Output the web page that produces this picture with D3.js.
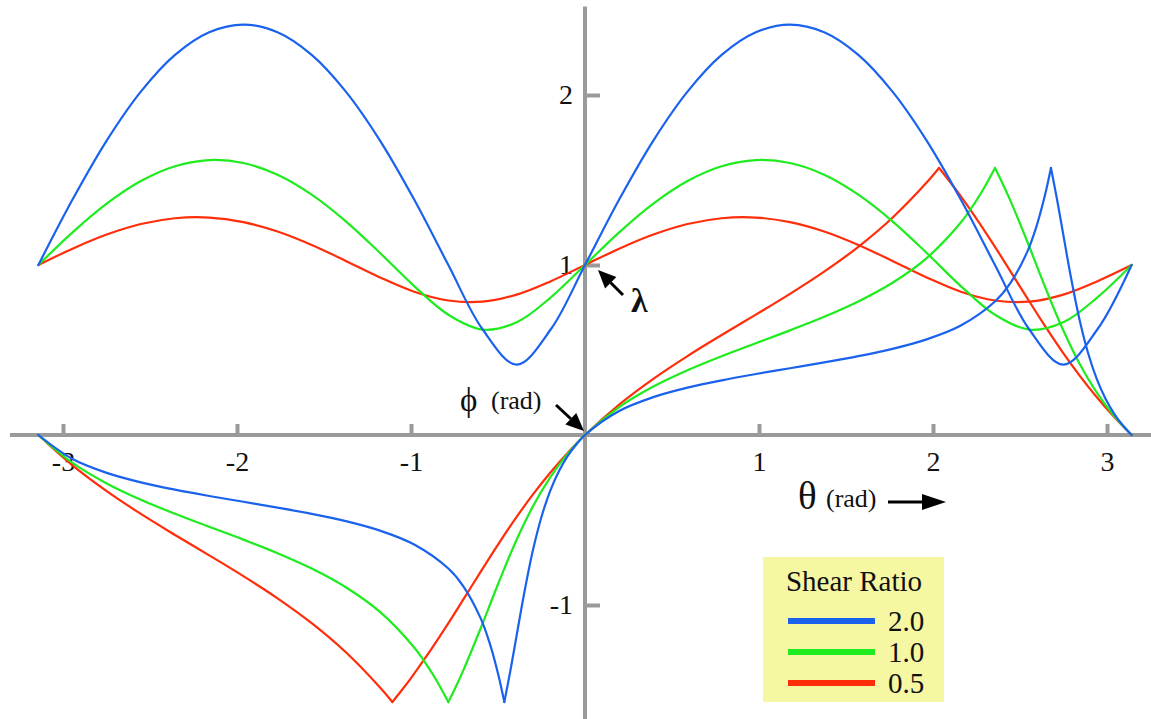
<!DOCTYPE html>
<html>
<head>
<meta charset="utf-8">
<script src="https://cdn.jsdelivr.net/npm/d3@7"></script>
<style>
  html, body { margin: 0; padding: 0; background: #fff; }
  svg { display: block; }
  svg text { font-family: "Liberation Serif", "Times New Roman", Times, "DejaVu Serif", "Noto Serif", serif; fill: #111; }
</style>
</head>
<body>
<svg id="chart" width="1151" height="719"></svg>
<script>
// Sample angles θ (rad) for the stretch curves
const theta = [-3.14159, -2.94524, -2.74889, -2.55254, -2.35619, -2.15984, -1.96350, -1.76715,
  -1.57080, -1.37445, -1.17810, -0.98175, -0.78540, -0.58905, -0.39270, -0.19635, 0,
  0.19635, 0.39270, 0.58905, 0.78540, 0.98175, 1.17810, 1.37445, 1.57080, 1.76715,
  1.96350, 2.15984, 2.35619, 2.55254, 2.74889, 2.94524, 3.14159];

// Stretch λ for each shear ratio
const lambda20 = [1, 1.385, 1.732, 2.020, 2.236, 2.369, 2.414, 2.369, 2.236, 2.020, 1.732, 1.385, 1,
  0.622, 0.414, 0.622, 1, 1.385, 1.732, 2.020, 2.236, 2.369, 2.414, 2.369, 2.236, 2.020, 1.732,
  1.385, 1, 0.622, 0.414, 0.622, 1];
const lambda10 = [1, 1.192, 1.361, 1.494, 1.581, 1.617, 1.600, 1.531, 1.414, 1.257, 1.071, 0.876, 0.707,
  0.620, 0.663, 0.810, 1, 1.192, 1.361, 1.494, 1.581, 1.617, 1.600, 1.531, 1.414, 1.257, 1.071,
  0.876, 0.707, 0.620, 0.663, 0.810, 1];
const lambda05 = [1, 1.096, 1.179, 1.241, 1.275, 1.279, 1.252, 1.197, 1.118, 1.024, 0.927, 0.843, 0.791,
  0.784, 0.826, 0.905, 1, 1.096, 1.179, 1.241, 1.275, 1.279, 1.252, 1.197, 1.118, 1.024, 0.927,
  0.843, 0.791, 0.784, 0.826, 0.905, 1];

// Angle ϕ (rad) for each shear ratio, with its own sample angles
const phiTheta20 = [-3.14159, -2.94524, -2.74889, -2.55254, -2.35619, -2.15984, -1.96350, -1.76715,
  -1.57080, -1.37445, -1.17810, -0.98175, -0.78540, -0.70, -0.60, -0.55, -0.50, -0.46365, -0.43,
  -0.40, -0.35, -0.30, -0.25, -0.20, -0.15, -0.10, -0.05, 0, 0.19635, 0.39270, 0.58905, 0.78540,
  0.98175, 1.17810, 1.37445, 1.57080, 1.76715, 1.96350, 2.15984, 2.35619, 2.44159, 2.54159,
  2.59159, 2.64159, 2.67795, 2.71159, 2.74159, 2.79159, 2.84159, 2.89159, 2.94159, 2.99159,
  3.04159, 3.09159, 3.14159];
const phi20 = [0, -0.14135, -0.22278, -0.27856, -0.32175, -0.35859, -0.39270, -0.42682, -0.46365,
  -0.50684, -0.56262, -0.64405, -0.78540, -0.88833, -1.07697, -1.21733, -1.40288, -1.57080,
  -1.39227, -1.22062, -0.93404, -0.68154, -0.48096, -0.32857, -0.21331, -0.12487, -0.05555, 0,
  0.14135, 0.22278, 0.27856, 0.32175, 0.35859, 0.39270, 0.42682, 0.46365, 0.50684, 0.56262,
  0.64405, 0.78540, 0.88833, 1.07697, 1.21733, 1.40288, 1.57080, 1.39227, 1.22062, 0.93404,
  0.68154, 0.48096, 0.32857, 0.21331, 0.12487, 0.05555, 0];

const phiTheta10 = [-3.14159, -2.94524, -2.74889, -2.55254, -2.35619, -2.15984, -1.96350, -1.76715,
  -1.57080, -1.37445, -1.17810, -0.98175, -0.90, -0.85, -0.78540, -0.75, -0.70, -0.60, -0.50,
  -0.40, -0.30, -0.20, -0.10, 0, 0.19635, 0.39270, 0.58905, 0.78540, 0.98175, 1.17810, 1.37445,
  1.57080, 1.76715, 1.96350, 2.15984, 2.24159, 2.29159, 2.35619, 2.39159, 2.44159, 2.54159,
  2.64159, 2.74159, 2.84159, 2.94159, 3.04159, 3.14159];
const phi10 = [0, -0.16441, -0.28492, -0.38098, -0.46365, -0.54002, -0.61548, -0.69519, -0.78540,
  -0.89539, -1.04089, -1.25041, -1.36721, -1.44987, -1.57080, -1.49750, -1.38570, -1.13826,
  -0.87774, -0.63219, -0.42109, -0.24897, -0.11107, 0, 0.16441, 0.28492, 0.38098, 0.46365,
  0.54002, 0.61548, 0.69519, 0.78540, 0.89539, 1.04089, 1.25041, 1.36721, 1.44987, 1.57080,
  1.49750, 1.38570, 1.13826, 0.87774, 0.63219, 0.42109, 0.24897, 0.11107, 0];

const phiTheta05 = [-3.14159, -2.94524, -2.74889, -2.55254, -2.35619, -2.15984, -1.96350, -1.76715,
  -1.57080, -1.37445, -1.17810, -1.10715, -1.05, -1.00, -0.90, -0.80, -0.70, -0.60, -0.50, -0.40,
  -0.30, -0.20, -0.10, 0, 0.19635, 0.39270, 0.58905, 0.78540, 0.98175, 1.17810, 1.37445, 1.57080,
  1.76715, 1.96350, 2.03444, 2.09159, 2.14159, 2.24159, 2.34159, 2.44159, 2.54159, 2.64159,
  2.74159, 2.84159, 2.94159, 3.04159, 3.14159];
const phi05 = [0, -0.17898, -0.33055, -0.46433, -0.58800, -0.70799, -0.83019, -0.96080, -1.10715,
  -1.27834, -1.48522, -1.57080, -1.49731, -1.42965, -1.28526, -1.13044, -0.96868, -0.80492,
  -0.64453, -0.49213, -0.35080, -0.22186, -0.10524, 0, 0.17898, 0.33055, 0.46433, 0.58800,
  0.70799, 0.83019, 0.96080, 1.10715, 1.27834, 1.48522, 1.57080, 1.49731, 1.42965, 1.28526,
  1.13044, 0.96868, 0.80492, 0.64453, 0.49213, 0.35080, 0.22186, 0.10524, 0];

const ratioLabels = ["2.0", "1.0", "0.5"];
const seriesColors = ["#1a62ee", "#1eec1e", "#ff2d0a"];
const xTicks = [-3, -2, -1, 1, 2, 3];
const yTicks = [-1, 1, 2];
const xAxisExtent = [-3.305, 3.26];
const yAxisExtent = [-1.7, 2.52];

const serif = '"Liberation Serif", "Times New Roman", Times, "DejaVu Serif", "Noto Serif", serif';

const svg = d3.select("#chart");
const x = d3.scaleLinear().domain([-3, 3]).range([63, 1107]);
const y = d3.scaleLinear().domain([-1, 2]).range([605, 95]);

// Axes through the origin
const axisColor = "#9a9a9a";
svg.append("line")
  .attr("x1", x(xAxisExtent[0])).attr("x2", x(xAxisExtent[1]))
  .attr("y1", y(0)).attr("y2", y(0))
  .attr("stroke", axisColor).attr("stroke-width", 4);
svg.append("line")
  .attr("x1", x(0)).attr("x2", x(0))
  .attr("y1", y(yAxisExtent[1])).attr("y2", y(yAxisExtent[0]))
  .attr("stroke", axisColor).attr("stroke-width", 4);

const xAxis = d3.axisBottom(x).tickValues(xTicks).tickFormat(d => String(d))
  .tickSizeInner(-11).tickSizeOuter(0).tickPadding(16);
const gx = svg.append("g").attr("transform", `translate(0,${y(0)})`).call(xAxis)
  .attr("font-family", serif).attr("font-size", 28);
gx.select(".domain").remove();
gx.selectAll(".tick line").attr("stroke", axisColor).attr("stroke-width", 4);
gx.selectAll(".tick text").attr("fill", "#111");

const yAxis = d3.axisLeft(y).tickValues(yTicks).tickFormat(d => String(d))
  .tickSizeInner(-15).tickSizeOuter(0).tickPadding(12);
const gy = svg.append("g").attr("transform", `translate(${x(0)},0)`).call(yAxis)
  .attr("font-family", serif).attr("font-size", 28);
gy.select(".domain").remove();
gy.selectAll(".tick line").attr("stroke", axisColor).attr("stroke-width", 4);
gy.selectAll(".tick text").attr("fill", "#111");

// Curves
const line = d3.line().x(d => x(d[0])).y(d => y(d[1])).curve(d3.curveCatmullRom.alpha(0.5));

// Split a ϕ series at its cusps so each piece stays sharp at the peak
function splitAtCusps(pts) {
  const peak = d3.max(pts, d => Math.abs(d[1]));
  const pieces = [];
  let start = 0;
  pts.forEach((d, i) => {
    if (i > 0 && i < pts.length - 1 && Math.abs(d[1]) >= peak - 1e-4) {
      pieces.push(pts.slice(start, i + 1));
      start = i;
    }
  });
  pieces.push(pts.slice(start));
  return pieces;
}

const lambdaSeries = [lambda20, lambda10, lambda05];
const phiSeries = [[phiTheta20, phi20], [phiTheta10, phi10], [phiTheta05, phi05]];
const curves = svg.append("g").attr("fill", "none").attr("stroke-width", 2.2)
  .attr("stroke-linejoin", "round").attr("stroke-linecap", "round");

[2, 1, 0].forEach(i => {
  const color = seriesColors[i];
  curves.append("path")
    .datum(theta.map((t, j) => [t, lambdaSeries[i][j]]))
    .attr("stroke", color).attr("d", line);
  const [th, vals] = phiSeries[i];
  splitAtCusps(th.map((t, j) => [t, vals[j]])).forEach(piece => {
    curves.append("path").datum(piece).attr("stroke", color).attr("d", line);
  });
});

// Arrow helper
function arrow(x1, y1, x2, y2, headLen, headHalf, width) {
  const ang = Math.atan2(y2 - y1, x2 - x1);
  const bx = x2 - headLen * Math.cos(ang), by = y2 - headLen * Math.sin(ang);
  svg.append("line").attr("x1", x1).attr("y1", y1).attr("x2", bx).attr("y2", by)
    .attr("stroke", "#000").attr("stroke-width", width);
  const px = -Math.sin(ang) * headHalf, py = Math.cos(ang) * headHalf;
  svg.append("path")
    .attr("d", `M${x2},${y2}L${bx + px},${by + py}L${bx - px},${by - py}Z`)
    .attr("fill", "#000");
}

const labels = svg.append("g").attr("font-family", serif);

// λ label
arrow(623, 295, 598, 270, 18, 8, 3);
labels.append("text").attr("x", 631).attr("y", 312).attr("font-size", 34)
  .attr("font-weight", "bold").text("λ");

// ϕ label
labels.append("text").attr("x", 460).attr("y", 411).attr("font-size", 33).text("ϕ");
labels.append("text").attr("x", 491).attr("y", 409).attr("font-size", 26).text("(rad)");
arrow(556, 405, 584, 431, 18, 8, 3);

// θ label
labels.append("text").attr("x", 798).attr("y", 509).attr("font-size", 39).text("θ");
labels.append("text").attr("x", 826).attr("y", 507).attr("font-size", 26).text("(rad)");
arrow(888, 502, 946, 502, 24, 8, 3);

// Legend
const legend = svg.append("g").attr("transform", "translate(763,557)").attr("font-family", serif);
legend.append("rect").attr("width", 181).attr("height", 145).attr("fill", "#f5f7a2");
legend.append("text").attr("x", 91).attr("y", 34).attr("text-anchor", "middle")
  .attr("font-size", 29).text("Shear Ratio");
ratioLabels.forEach((lab, i) => {
  const cy = 64 + i * 31;
  legend.append("line").attr("x1", 25).attr("x2", 112).attr("y1", cy).attr("y2", cy)
    .attr("stroke", seriesColors[i]).attr("stroke-width", 6);
  legend.append("text").attr("x", 125).attr("y", cy + 10).attr("font-size", 29).text(lab);
});
</script>
</body>
</html>
